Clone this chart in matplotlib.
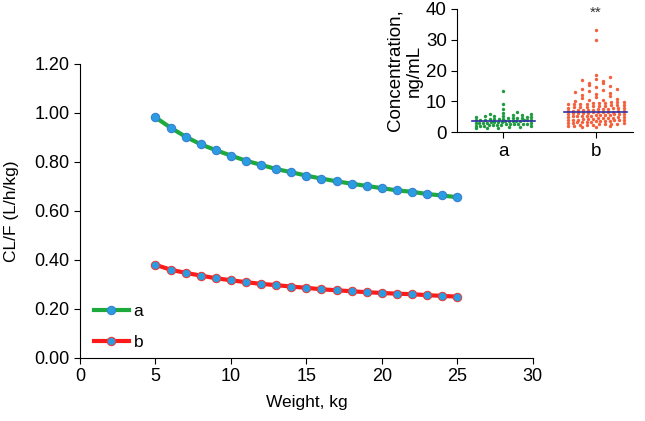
import numpy as np
import matplotlib.pyplot as plt

plt.rcParams['font.family'] = ['Liberation Sans', 'DejaVu Sans']

# main panel: CL/F vs weight
weight = list(range(5, 26))
clf_a = [0.982, 0.940, 0.903, 0.872, 0.848, 0.826, 0.805, 0.788, 0.771, 0.758, 0.744,
         0.732, 0.721, 0.711, 0.702, 0.693, 0.684, 0.678, 0.669, 0.663, 0.656]
clf_b = [0.380, 0.360, 0.347, 0.336, 0.325, 0.317, 0.309, 0.302, 0.297, 0.291, 0.286,
         0.280, 0.276, 0.272, 0.268, 0.265, 0.262, 0.260, 0.256, 0.253, 0.250]

# inset: concentrations per group
conc_a = [1.2, 1.4, 1.5, 1.6, 1.8, 1.9, 2.0, 2.0, 2.1, 2.2, 2.3, 2.3, 2.4, 2.5, 2.5,
          2.6, 2.7, 2.8, 2.8, 2.9, 3.0, 3.0, 3.1, 3.1, 3.2, 3.3, 3.3, 3.4, 3.5, 3.5,
          3.6, 3.7, 3.7, 3.8, 3.8, 3.9, 4.0, 4.0, 4.1, 4.2, 4.2, 4.3, 4.4, 4.5, 4.5,
          4.6, 4.7, 4.8, 4.9, 5.0, 5.1, 5.2, 5.3, 5.5, 5.6, 5.8, 6.0, 6.3, 6.6, 7.4,
          9.3, 13.2]
conc_b = [1.6, 1.7, 1.9, 2.0, 2.1, 2.2, 2.3, 2.4, 2.5, 2.6, 2.7, 2.8, 2.9, 3.0,
          3.1, 3.2, 3.2, 3.3, 3.4, 3.5, 3.5, 3.6, 3.7, 3.8, 3.8, 3.9, 4.0, 4.1, 4.1,
          4.2, 4.3, 4.4, 4.5, 4.5, 4.6, 4.7, 4.8, 4.9, 5.0,
          5.1, 5.2, 5.2, 5.3, 5.4, 5.5, 5.5, 5.6, 5.7, 5.8, 5.8, 5.9, 6.0, 6.1, 6.1,
          6.2, 6.3, 6.4, 6.4, 6.5, 6.6, 6.6,
          6.8, 6.9, 7.0, 7.0, 7.1, 7.2, 7.3, 7.3, 7.4, 7.5, 7.6, 7.7, 7.8, 7.9, 8.0,
          8.1, 8.2, 8.3, 8.4, 8.5, 8.6, 8.7, 8.8, 8.9, 9.0, 9.1, 9.2, 9.3, 9.4, 9.5,
          9.6, 9.7, 9.8, 9.9, 10.0,
          10.3, 10.6, 10.9, 11.2, 11.5, 11.8, 12.1, 12.4, 12.7, 13.0, 13.3, 13.6,
          13.9, 14.1, 14.5, 14.9, 15.3, 15.8, 16.1, 16.5, 17.0, 17.4, 17.9, 18.5,
          29.8, 33.2]
groups = ['a', 'b']
group_colors = ['#1e9a40', '#f4603c']


def scatter_offsets(vals, bin_h=1.0, half_w=0.3, max_step=0.15):
    # Prism-like dot layout: values in the same row are spread side by side
    vals = np.sort(np.asarray(vals, dtype=float))
    xs = np.zeros(len(vals))
    rows = np.floor(vals / bin_h)
    for r in np.unique(rows):
        idx = np.where(rows == r)[0]
        n = len(idx)
        if n == 1:
            continue
        step = min(max_step, 2 * half_w / (n - 1))
        xs[idx] = (np.arange(n) - (n - 1) / 2) * step
    return xs, vals


fig = plt.figure(figsize=(6.45, 4.21), dpi=100)
ax = fig.add_axes([0.124, 0.150, 0.702, 0.698])

ax.plot(weight, clf_a, color='#1daa3c', lw=3, marker='o', ms=6,
        mfc='#2a9de2', mec='#3a7fd0', mew=0.8, label='a')
ax.plot(weight, clf_b, color='#ff1a1a', lw=3, marker='o', ms=6,
        mfc='#2a9de2', mec='#e04040', mew=0.8, label='b')

ax.set_xlim(0, 30)
ax.set_ylim(0, 1.2)
ax.set_xticks(range(0, 31, 5))
ax.set_yticks(np.arange(0, 1.21, 0.2))
ax.set_yticklabels(['%.2f' % v for v in np.arange(0, 1.21, 0.2)])
ax.set_xlabel('Weight, kg', fontsize=12.5, labelpad=7)
ax.set_ylabel('CL/F (L/h/kg)', fontsize=12.5, labelpad=11)
for s in ['top', 'right']:
    ax.spines[s].set_visible(False)
ax.tick_params(labelsize=13, direction='out', length=4)
ax.legend(loc='lower left', bbox_to_anchor=(-0.004, -0.027), frameon=False,
          fontsize=12.5, handlelength=2.0, labelspacing=0.9, handletextpad=0.3)

# inset
ins = fig.add_axes([0.709, 0.686, 0.272, 0.293])
for i, (vals, c) in enumerate(zip([conc_a, conc_b], group_colors)):
    dx, ys = scatter_offsets(vals)
    ins.scatter(i + dx, ys, s=6, color=c, linewidths=0, zorder=3)
    med = np.median(vals)
    ins.plot([i - 0.34, i + 0.34], [med, med], color='#3030a8', lw=1.2, zorder=4)
ins.text(1, 36.5, '**', ha='center', va='bottom', fontsize=11, color='#333333')
ins.set_xlim(-0.5, 1.4)
ins.set_ylim(0, 40)
ins.set_xticks(range(len(groups)))
ins.set_xticklabels(groups)
ins.set_yticks([0, 10, 20, 30, 40])
ins.set_ylabel('Concentration,\nng/mL', fontsize=13.5, labelpad=2)
ins.set_facecolor('none')
for s in ['top', 'right']:
    ins.spines[s].set_visible(False)
ins.tick_params(labelsize=13.5, direction='out', length=4)

fig.savefig('out.png', dpi=100)
